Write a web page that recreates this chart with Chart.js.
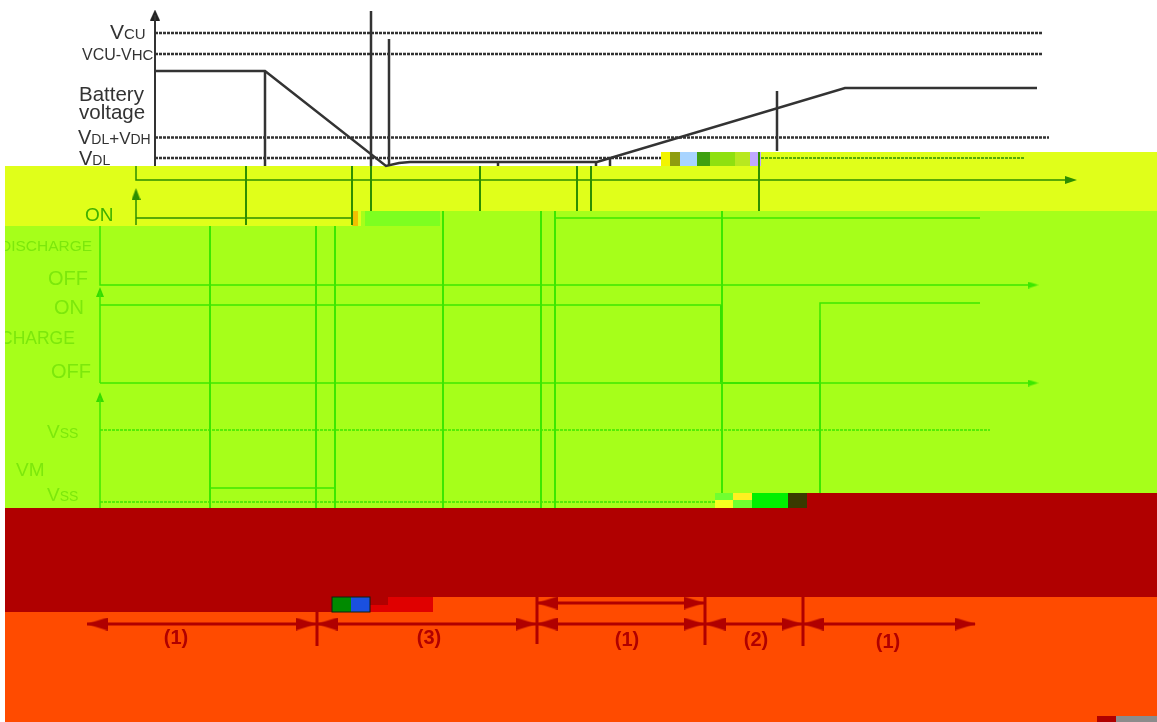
<!DOCTYPE html>
<html><head><meta charset="utf-8">
<style>html,body{margin:0;padding:0;background:#fff;overflow:hidden}canvas{display:block}</style>
<script src="https://cdn.jsdelivr.net/npm/chart.js@4/dist/chart.umd.min.js"></script>
</head><body><canvas id="c" width="1157" height="722"></canvas>
<script>
// ---- readings, in units of the picture's own x / y axes ----
const voltageLevels = [33, 54, 137.5, 158];
const batteryTrace = [[155,71],[265,71],[386,166],[399,163],[410,162],[597,162],[845,88],[1037,88]];
const chargeTrace = [[100,305],[721,305],[721,383],[820,383],[820,303],[980,303]];
const dischargeTraceA = [[136,218],[352,218]];
const dischargeTraceB = [[555,218],[980,218]];
const vmPulse = [[210,488],[335,488]];
const vssLevel = [[100,430],[990,430]];
const vmBase = [[100,502],[715,502]];
const topVerticals = [[265,71,166],[371,11,166],[389,39,166],[596,162,166],[610,158,166],[498,162,166],[777,91,151]];
const yellowVerticals = [[246,166,225],[352,166,225],[371,166,211],[480,166,211],[577,166,211],[591,166,211],[759,152,211]];
const greenVerticals = [[210,226,508],[316,226,508],[335,226,508],[443,211,508],[541,211,508],[555,211,508],[722,211,493],[820,320,493]];
const redVerticals = [[317,612,646],[537,597,644],[705,597,645],[803,597,646]];
const dimensionRows = [[[87,624],[317,624]],[[317,624],[537,624]],[[537,603],[705,603]],[[537,624],[705,624]],[[705,624],[803,624]],[[803,624],[975,624]]];
const periodLabels = ["(1)","(3)","(1)","(2)","(1)"];
const periodX = [176,429,627,756,888];
const periodY = [638,638,640,640,642];
const bandRects = [
 [5,166,1157,226],[661,152,1157,166],
 [5,226,1157,508],[361,211,1157,226],
 [805,493,1157,508],[5,508,1157,597],[5,597,370,612],
 [5,612,1157,722],[430,597,1157,612],[370,597,430,612]
];
const bandKinds = ["y","y","g","g","r","r","r","o","o","r"];
const patchRects = [
 [661,152,670,166],[670,152,680,166],[680,152,697,166],[697,152,710,166],[710,152,735,166],[735,152,750,166],[750,152,761,166],
 [352,211,358,226],[365,211,440,226],
 [715,493,733,500],[715,500,733,508],[733,493,752,500],[733,500,752,508],[752,493,788,508],[788,493,807,508],
 [332,597,351,612],[351,597,370,612],[370,605,433,612],[388,597,433,605],
 [1097,716,1116,722],[1116,716,1157,722]
];
const patchKinds = ["#f2f400","#8f9d10","#a8d4ff","#3fa010","#8fe010","#b8e820","#c0a8ff",
 "#f2c000","#7dff20",
 "#70ff30","#f6ff20","#fff020","#70ff30","#00f000","#3a3a00",
 "#008a00","#1a50e0","#e00000","#e00000",
 "#b00000","#8c8c8c"];

const C = {y:"#e0ff1a",g:"#a6ff1a",r:"#b00000",o:"#ff4b00",ink:"#333333",dk:"#2d8f00",lg:"#3ce800",txt:"#7ce80c"};

function arrowImg(col,w,h){const k=document.createElement('canvas');k.width=w;k.height=h;const x=k.getContext('2d');
 x.fillStyle=col;x.beginPath();x.moveTo(0,0);x.lineTo(w,h/2);x.lineTo(0,h);x.closePath();x.fill();return k;}
const toPts = a => a.map(p=>({x:p[0],y:p[1]}));
const ds = [];
function line(pts,col,w,dash){ds.push({type:'scatter',data:toPts(pts),showLine:true,borderColor:col,borderWidth:w,borderDash:dash||[],pointRadius:0,tension:0,fill:false});}
function verts(list,col,w,dash){list.forEach(v=>line([[v[0],v[1]],[v[0],v[2]]],col,w,dash));}
function heads(pts,rot,img){ds.push({type:'scatter',data:toPts(pts),showLine:false,pointStyle:img,pointRadius:6,rotation:rot});}

// top panel
const ends=[1043,1043,1049,661];
voltageLevels.forEach((y,i)=>line([[155,y],[ends[i],y]],C.ink,2.5,[3,1]));
line([[155,166],[155,15]],C.ink,2);
line(batteryTrace,C.ink,2.5);
verts(topVerticals,C.ink,2.5);
heads([[155,15]],[270],arrowImg('#222',11,10));
// yellow panel
line([[761,158],[1025,158]],C.dk,1.5,[3,1]);
line([[136,166],[136,180],[1068,180]],C.dk,1.5);
line([[136,225],[136,195]],C.dk,1.5);
line(dischargeTraceA,C.dk,1.5);
verts(yellowVerticals,C.dk,2);
heads([[1071,180]],[0],arrowImg(C.dk,12,8));
heads([[136,194]],[270],arrowImg(C.dk,12,9));
// green panel
line([[100,226],[100,285],[1032,285]],C.lg,1.5);
line([[100,383],[100,292]],C.lg,1.5);
line([[100,383],[1032,383]],C.lg,1.5);
line(chargeTrace,C.lg,1.5);
line([[721,305],[721,383],[760,383]],"#20c800",2);
line(dischargeTraceB,C.lg,1.5);
line([[100,508],[100,398]],C.lg,1.5);
line(vssLevel,C.lg,1.5,[3,1]);
line(vmPulse,C.lg,1.5);
line(vmBase,C.lg,1.5,[3,1]);
verts(greenVerticals,C.lg,2);
heads([[1033,285],[1033,383]],[0,0],arrowImg(C.lg,11,7));
heads([[100,292],[100,397]],[270,270],arrowImg("#35dc00",10,8));
// orange panel
verts(redVerticals,C.r,3);
dimensionRows.forEach(r=>line(r,C.r,3));
const hr=arrowImg(C.r,21,13);
heads([[97,624],[327,624],[547,603],[547,624],[715,624],[813,624]],[180,180,180,180,180,180],hr);
heads([[306,624],[526,624],[694,603],[694,624],[792,624],[965,624]],[0,0,0,0,0,0],hr);

const bandsPlugin={id:'bands',beforeDatasetsDraw(ch){const c=ch.ctx,X=ch.scales.x,Y=ch.scales.y;c.save();
 const rect=(r,col)=>{const a=X.getPixelForValue(r[0]),b=Y.getPixelForValue(r[1]);c.fillStyle=col;c.fillRect(a,b,X.getPixelForValue(r[2])-a,Y.getPixelForValue(r[3])-b);};
 bandRects.forEach((r,i)=>rect(r,C[bandKinds[i]]));
 patchRects.forEach((r,i)=>rect(r,patchKinds[i]));
 c.strokeStyle='#102010';c.lineWidth=1;c.strokeRect(X.getPixelForValue(332),Y.getPixelForValue(597),38,15);
 c.restore();}};

const F='"Liberation Sans",Arial,sans-serif';
function seg(c,X,Y,x,y,parts,col){let px=X.getPixelForValue(x);const py=Y.getPixelForValue(y);c.fillStyle=col;c.textBaseline='alphabetic';c.textAlign='left';
 parts.forEach(p=>{c.font=`${p[1]}px ${F}`;c.fillText(p[0],px,py);px+=c.measureText(p[0]).width;});}
const textPlugin={id:'txt',afterDatasetsDraw(ch){const c=ch.ctx,X=ch.scales.x,Y=ch.scales.y;c.save();
 seg(c,X,Y,110,39,[["V",21],["CU",15]],"#333");
 seg(c,X,Y,82,60,[["VCU-V",16],["HC",15]],"#333");
 seg(c,X,Y,79,101,[["Battery",20.5]],"#333");
 seg(c,X,Y,79,119,[["voltage",20.5]],"#333");
 seg(c,X,Y,78,144,[["V",20],["DL",14],["+V",17],["DH",14]],"#333");
 seg(c,X,Y,79,165,[["V",20],["DL",14]],"#333");
 seg(c,X,Y,85,221,[["ON",19]],"#3fb000");
 c.save();c.beginPath();c.rect(X.getPixelForValue(5),0,1152,722);c.clip();
 seg(c,X,Y,0,251,[["DISCHARGE",15.5]],C.txt);
 seg(c,X,Y,48,285,[["OFF",20]],C.txt);
 seg(c,X,Y,54,314,[["ON",20]],C.txt);
 seg(c,X,Y,0,344,[["CHARGE",17.5]],C.txt);
 seg(c,X,Y,51,378,[["OFF",20]],C.txt);
 seg(c,X,Y,47,438,[["V",19],["SS",14]],C.txt);
 seg(c,X,Y,16,476,[["VM",19]],C.txt);
 seg(c,X,Y,47,501,[["V",19],["SS",14]],C.txt);
 c.restore();
 periodLabels.forEach((t,i)=>{c.font=`bold 20px ${F}`;c.fillStyle=C.r;c.textAlign='center';c.textBaseline='middle';
  c.fillText(t,X.getPixelForValue(periodX[i]),Y.getPixelForValue(periodY[i]));});
 c.restore();}};

new Chart(document.getElementById('c'),{
 type:'scatter',
 data:{datasets:ds},
 options:{responsive:false,animation:false,devicePixelRatio:1,
  layout:{padding:0,autoPadding:false},
  plugins:{legend:{display:false},tooltip:{enabled:false},title:{display:false}},
  scales:{x:{type:'linear',display:false,min:0,max:1157},y:{type:'linear',display:false,min:0,max:722,reverse:true}}},
 plugins:[bandsPlugin,textPlugin]
});
</script></body></html>
